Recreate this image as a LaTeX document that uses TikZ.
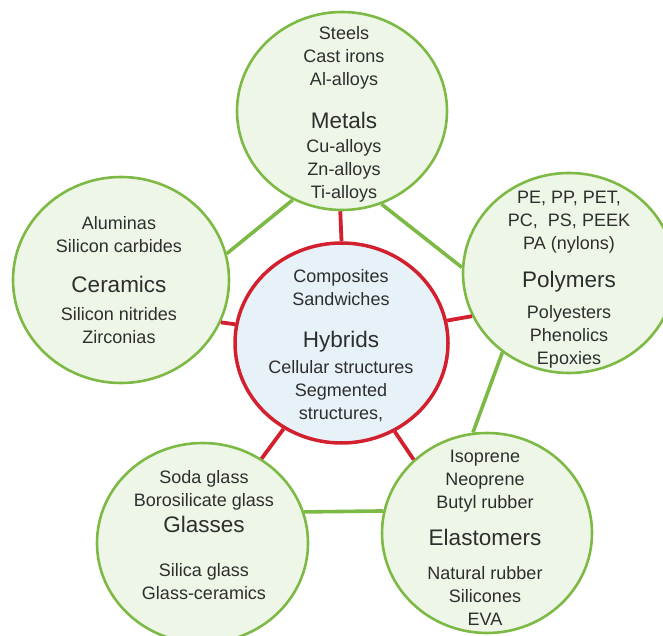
\documentclass[tikz,border=0pt]{standalone}
\usepackage{fontspec}
\setmainfont{Liberation Sans}
\usetikzlibrary{shapes.geometric}
\definecolor{grn}{HTML}{7DBA45}
\definecolor{grnfill}{HTML}{EEF6E7}
\definecolor{redl}{HTML}{D2202F}
\definecolor{bluefill}{HTML}{E7F2F8}
\definecolor{txt}{HTML}{2E2E2E}
\begin{document}
\begin{tikzpicture}[x=1pt,y=-1pt,
  outer/.style={ellipse,draw=grn,line width=2.6pt,fill=grnfill,inner sep=0pt},
  hub/.style={ellipse,draw=redl,line width=3.5pt,fill=bluefill,inner sep=0pt},
  link/.style={draw=grn,line width=3.6pt},
  spoke/.style={draw=redl,line width=3.8pt},
  item/.style={text=txt,font=\fontsize{18}{23}\selectfont,align=center,inner sep=0pt},
  head/.style={text=txt,font=\fontsize{22.5}{26}\selectfont,inner sep=0pt}]
\useasboundingbox (0,0) rectangle (663,636);

% circles
\node[outer,minimum width=210pt,minimum height=198pt] (met) at (342,111) {};
\node[outer,minimum width=216pt,minimum height=206pt] (cer) at (121,280) {};
\node[outer,minimum width=212pt,minimum height=200pt] (pol) at (569,273) {};
\node[outer,minimum width=211pt,minimum height=200pt] (gla) at (202.5,543) {};
\node[outer,minimum width=210pt,minimum height=200pt] (ela) at (487,533) {};
\node[hub,minimum width=213pt,minimum height=200pt] (hyb) at (341.5,343) {};

% green links
\draw[link] (met.-119) -- (cer.14);
\draw[link] (met.-67) -- (pol.177);
\draw[link] (pol.-130) -- (ela.98);
\draw[link] (gla.17) -- (ela.168);

% red spokes
\draw[spoke] (hyb.90) -- (met.-91);
\draw[spoke] (hyb.170) -- (cer.-23);
\draw[spoke] (hyb.12) -- (pol.-156);
\draw[spoke] (hyb.-59) -- (ela.135);
\draw[spoke] (hyb.-124) -- (gla.55);

% Metals
\node[item] (metA) at (344,58) {Steels\\Cast irons\\Al-alloys};
\node[head] (metH) at (344,120) {Metals};
\node[item] (metB) at (344,171) {Cu-alloys\\Zn-alloys\\Ti-alloys};
% Ceramics
\node[item] (cerA) at (119,235) {Aluminas\\Silicon carbides};
\node[head] (cerH) at (119,284) {Ceramics};
\node[item] (cerB) at (119,326) {Silicon nitrides\\Zirconias};
% Polymers
\node[item] (polA) at (569,222) {PE, PP, PET,\\PC,~ PS, PEEK\\PA (nylons)};
\node[head] (polH) at (569,282) {Polymers};
\node[item] (polB) at (569,337) {Polyesters\\Phenolics\\Epoxies};
% Hybrids
\node[item] (hybA) at (341,288) {Composites\\Sandwiches};
\node[head] (hybH) at (341,342) {Hybrids};
\node[item] (hybB) at (341,391) {Cellular structures\\Segmented\\structures,};
% Glasses
\node[item] (glaA) at (204,490) {Soda glass\\Borosilicate glass};
\node[head] (glaH) at (204,524) {Glasses};
\node[item] (glaB) at (204,582) {Silica glass\\Glass-ceramics};
% Elastomers
\node[item] (elaA) at (485,481) {Isoprene\\Neoprene\\Butyl rubber};
\node[head] (elaH) at (485,537) {Elastomers};
\node[item] (elaB) at (485,596) {Natural rubber\\Silicones\\EVA};
\end{tikzpicture}
\end{document}
